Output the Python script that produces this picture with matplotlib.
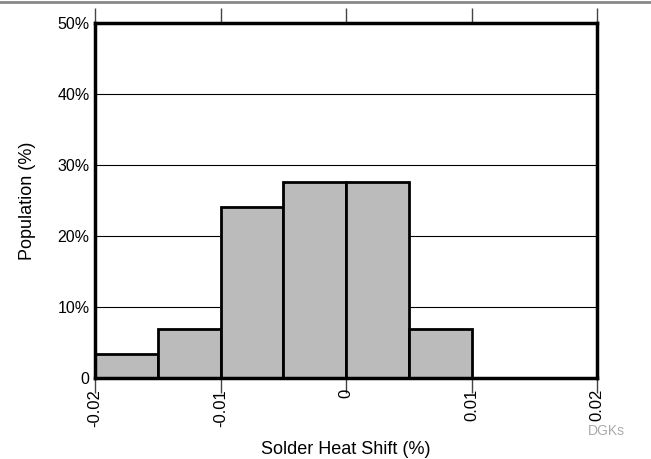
import matplotlib
matplotlib.use("Agg")
import matplotlib.pyplot as plt
from matplotlib.lines import Line2D

plt.rcParams['font.family'] = ['Liberation Sans', 'DejaVu Sans']

# bordes dels bins i poblacio (%)
bin_edges = [-0.02, -0.015, -0.01, -0.005, 0.0, 0.005, 0.01]
population = [3.45, 6.9, 24.14, 27.59, 27.59, 6.9]
x_ticks = [-0.02, -0.01, 0, 0.01, 0.02]
x_labels = ["-0.02", "-0.01", "0", "0.01", "0.02"]
y_ticks = [0, 10, 20, 30, 40, 50]
y_labels = ["0", "10%", "20%", "30%", "40%", "50%"]

fig = plt.figure(figsize=(6.51, 4.59), dpi=100)
ax = fig.add_axes([95/651, 81/459, 502/651, 355/459])

widths = [bin_edges[i+1] - bin_edges[i] for i in range(len(population))]
ax.bar(bin_edges[:-1], population, width=widths, align='edge',
       color='#bbbbbb', edgecolor='black', linewidth=2, zorder=3)

ax.set_xlim(-0.02, 0.02)
ax.set_ylim(0, 50)
ax.set_xticks(x_ticks)
ax.set_xticklabels(x_labels, rotation=90, fontsize=12)
ax.set_yticks(y_ticks)
ax.set_yticklabels(y_labels, fontsize=11.5)
ax.tick_params(axis='y', length=0, pad=4)
ax.tick_params(axis='x', length=11, width=1, color='#444444', direction='out', pad=-3, top=True)
ax.yaxis.grid(True, color='black', linewidth=0.8, zorder=1)
ax.set_axisbelow(True)
for s in ax.spines.values():
    s.set_linewidth(2.5)
    s.set_zorder(4)

ax.set_xlabel("Solder Heat Shift (%)", fontsize=13, va='center')
ax.xaxis.set_label_coords(0.5, (378 - 449) / 355)
ax.set_ylabel("Population (%)", fontsize=13, va='center')
ax.yaxis.set_label_coords((28 - 95) / 502, 0.5)

fig.text(606/651, 1 - 431/459, "DGKs", fontsize=10, color='#aaaaaa', ha='center', va='center')
fig.add_artist(Line2D([0, 1], [1 - 1.5/459, 1 - 1.5/459], color='#888888', linewidth=2))

fig.savefig("out.png", dpi=100)
